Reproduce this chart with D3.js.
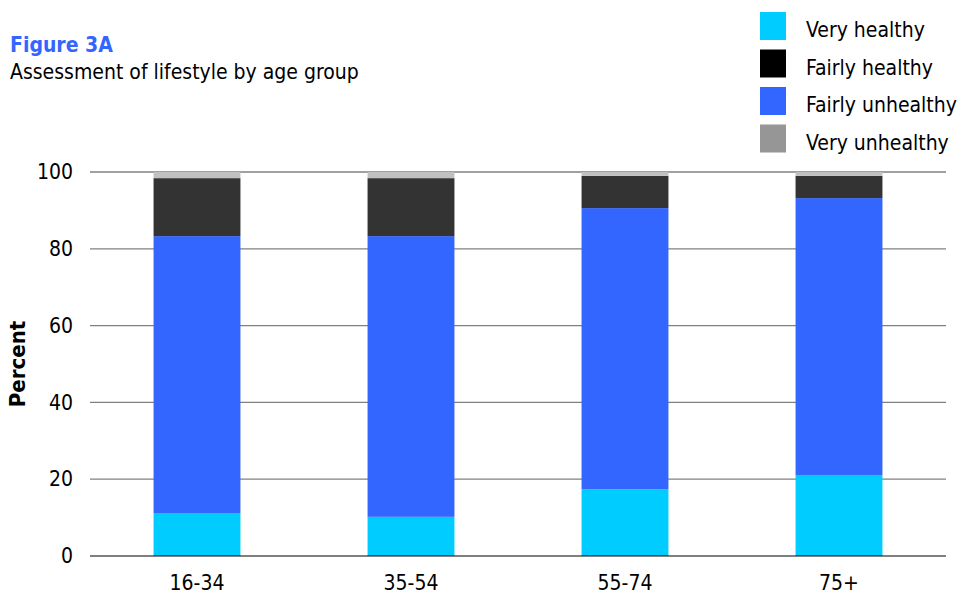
<!DOCTYPE html>
<html>
<head>
<meta charset="utf-8">
<script src="https://cdn.jsdelivr.net/npm/d3@7"></script>
<style>
  body { margin: 0; background: #fff; }
  svg { display: block; font-family: "DejaVu Sans Condensed", "DejaVu Sans", Verdana, sans-serif; }
</style>
</head>
<body>
<svg id="chart" width="960" height="594"></svg>
<script>
// Age groups along the x axis
const ageGroups = ["16-34", "35-54", "55-74", "75+"];

// Percentages per lifestyle assessment, one value per age group
const veryHealthy     = [11.2, 10.2, 17.4, 21.1];
const fairlyUnhealthy = [72.1, 73.1, 73.2, 72.1];
const fairlyHealthy   = [15.1, 15.1, 8.4, 5.8];
const veryUnhealthy   = [1.6, 1.6, 1.0, 1.0];

// Y axis ticks
const yTicks = [0, 20, 40, 60, 80, 100];

// Legend entries (as listed) and their swatch colours
const legendNames  = ["Very healthy", "Fairly healthy", "Fairly unhealthy", "Very unhealthy"];
const legendColors = ["#00ccff", "#000000", "#3366ff", "#969696"];

// Stack order from bottom to top, with bar fill colours
const stackSeries = [
  { name: "Very healthy",     values: veryHealthy,     color: "#00ccff" },
  { name: "Fairly unhealthy", values: fairlyUnhealthy, color: "#3366ff" },
  { name: "Fairly healthy",   values: fairlyHealthy,   color: "#333333" },
  { name: "Very unhealthy",   values: veryUnhealthy,   color: "#c0c0c0" }
];

const FONT = "DejaVu Sans Condensed, DejaVu Sans, Verdana, sans-serif";
const svg = d3.select("#chart");
const plotLeft = 90, plotRight = 946, plotTop = 172, plotBottom = 556;

const x = d3.scaleBand().domain(ageGroups).range([plotLeft, plotRight])
  .paddingInner(0.594).paddingOuter(0.297);
const y = d3.scaleLinear().domain([0, 100]).range([plotBottom, plotTop]);

// Gridlines
svg.append("g")
  .selectAll("line")
  .data(yTicks.filter(d => d > 0))
  .join("line")
  .attr("x1", plotLeft).attr("x2", plotRight)
  .attr("y1", d => y(d)).attr("y2", d => y(d))
  .attr("stroke", "#808080").attr("stroke-width", 1.3);

// Y axis tick labels
const yAxis = svg.append("g")
  .attr("transform", `translate(${plotLeft},0)`)
  .call(d3.axisLeft(y).tickValues(yTicks).tickSize(0).tickPadding(17));
yAxis.select(".domain").remove();
yAxis.selectAll("text")
  .attr("font-size", 21).attr("fill", "#000")
  .attr("font-family", FONT);

// Stacked bars
const table = ageGroups.map((g, i) => {
  const row = { group: g };
  stackSeries.forEach(s => { row[s.name] = s.values[i]; });
  return row;
});
const stacked = d3.stack().keys(stackSeries.map(s => s.name))(table);

svg.append("g")
  .selectAll("g")
  .data(stacked)
  .join("g")
  .attr("fill", (d, i) => stackSeries[i].color)
  .selectAll("rect")
  .data(d => d)
  .join("rect")
  .attr("x", d => x(d.data.group))
  .attr("width", x.bandwidth())
  .attr("y", d => y(d[1]))
  .attr("height", d => y(d[0]) - y(d[1]));

// Baseline, drawn over the bar bottoms
svg.append("line")
  .attr("x1", plotLeft).attr("x2", plotRight)
  .attr("y1", plotBottom).attr("y2", plotBottom)
  .attr("stroke", "#000").attr("stroke-opacity", 0.5).attr("stroke-width", 2);

// X axis labels
const xAxis = svg.append("g")
  .attr("transform", `translate(0,${plotBottom})`)
  .call(d3.axisBottom(x).tickSize(0).tickPadding(19));
xAxis.select(".domain").remove();
xAxis.selectAll("text")
  .attr("font-size", 21).attr("fill", "#000")
  .attr("font-family", FONT);

// Y axis title
svg.append("text")
  .attr("transform", `translate(25,${(plotTop + plotBottom) / 2}) rotate(-90)`)
  .attr("text-anchor", "middle")
  .attr("font-size", 22).attr("font-weight", "bold")
  .text("Percent");

// Titles
svg.append("text")
  .attr("x", 10).attr("y", 52)
  .attr("font-size", 21).attr("font-weight", "bold").attr("fill", "#3366ff")
  .text("Figure 3A");
svg.append("text")
  .attr("x", 10).attr("y", 79)
  .attr("font-size", 21).attr("fill", "#000")
  .text("Assessment of lifestyle by age group");

// Legend
const legend = svg.append("g")
  .selectAll("g")
  .data(legendNames)
  .join("g")
  .attr("transform", (d, i) => `translate(760,${12 + i * 37.5})`);
legend.append("rect")
  .attr("width", 26).attr("height", 28)
  .attr("fill", (d, i) => legendColors[i]);
legend.append("text")
  .attr("x", 46).attr("y", 25)
  .attr("font-size", 21).attr("fill", "#000")
  .text(d => d);
</script>
</body>
</html>
